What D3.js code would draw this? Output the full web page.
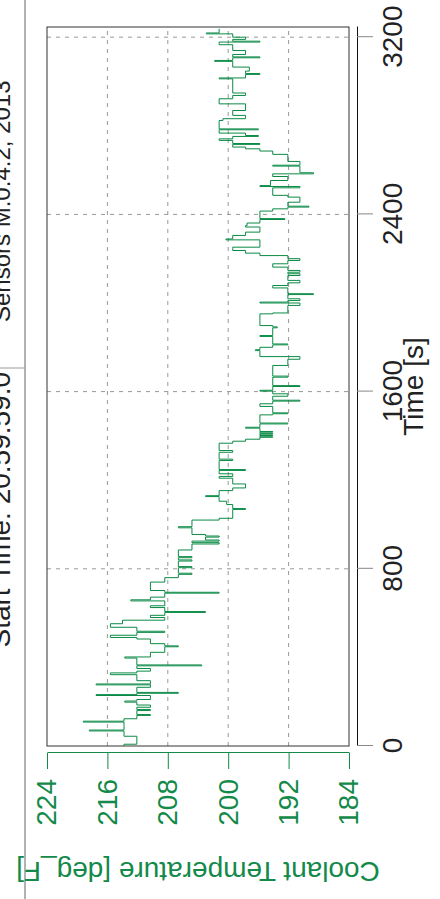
<!DOCTYPE html>
<html>
<head>
<meta charset="utf-8">
<script src="https://cdn.jsdelivr.net/npm/d3@7"></script>
<style>
    html, body { margin: 0; padding: 0; background: #fff; }
    text { font-family: "Liberation Sans", Arial, sans-serif; }
</style>
</head>
<body>
<div id="chart"></div>
<script>
// =========================
// DATA
// =========================
const timeTicks = [0, 800, 1600, 2400, 3200];
const tempTicks = [224, 216, 208, 200, 192, 184];

const times = [
    0, 8, 44, 68, 72, 108, 112, 123, 138, 142, 160, 165, 175, 185, 198, 203, 210, 228, 232, 238,
    242, 265, 276, 280, 295, 322, 330, 338, 350, 362, 366, 397, 402, 423, 448, 452, 462, 483, 490, 500,
    513, 518, 536, 552, 568, 580, 590, 603, 607, 625, 633, 655, 660, 672, 690, 694, 702, 740, 760, 775,
    780, 805, 810, 835, 840, 850, 855, 885, 912, 918, 925, 930, 943, 948, 955, 985, 990, 1020, 1028, 1068,
    1072, 1090, 1105, 1123, 1126, 1130, 1153, 1165, 1183, 1209, 1217, 1229, 1244, 1248, 1289, 1295, 1326, 1334, 1367, 1376,
    1385, 1394, 1396, 1402, 1404, 1409, 1412, 1417, 1420, 1435, 1439, 1454, 1458, 1495, 1500, 1504, 1533, 1545, 1557, 1561,
    1579, 1590, 1602, 1606, 1623, 1627, 1665, 1670, 1718, 1746, 1758, 1785, 1789, 1800, 1811, 1815, 1849, 1853, 1888, 1892,
    1898, 1951, 1955, 1989, 2000, 2004, 2011, 2019, 2038, 2042, 2068, 2079, 2091, 2102, 2124, 2132, 2139, 2147, 2162, 2177,
    2192, 2200, 2214, 2225, 2237, 2245, 2252, 2285, 2289, 2305, 2320, 2343, 2349, 2361, 2377, 2381, 2415, 2425, 2433, 2437,
    2455, 2478, 2486, 2520, 2526, 2530, 2553, 2571, 2583, 2588, 2618, 2622, 2639, 2671, 2686, 2696, 2704, 2716, 2720, 2734,
    2741, 2752, 2756, 2767, 2782, 2786, 2824, 2832, 2847, 2869, 2899, 2922, 2937, 2948, 3012, 3016, 3032, 3036, 3047, 3065,
    3091, 3095, 3107, 3111, 3122, 3140, 3166, 3178, 3182, 3190, 3200, 3215, 3219, 3238
];

const temps = [
    213.8, 212.1, 213.8, 218.4, 213.8, 219.2, 213.8, 212.1, 210.3, 212.1, 210.3, 212.1, 210.3, 212.1, 213.7, 212.1, 210.3, 217.5, 212.1, 206.6,
    212.1, 210.3, 217.5, 210.3, 212.1, 215.6, 212.1, 210.3, 212.1, 203.5, 212.1, 213.7, 210.3, 208.4, 206.6, 208.4, 210.3, 212.1, 215.6, 212.1,
    208.4, 212.1, 215.6, 214.0, 208.4, 210.3, 208.4, 203.0, 208.4, 210.3, 208.4, 212.9, 210.3, 208.4, 201.2, 208.4, 210.3, 208.4, 206.6, 204.8,
    206.6, 204.8, 206.6, 204.8, 206.6, 204.8, 206.6, 204.8, 201.2, 204.8, 201.2, 203.0, 201.2, 203.0, 204.8, 206.6, 204.8, 201.2, 199.4, 197.7,
    199.4, 200.2, 201.2, 201.2, 203.0, 201.2, 199.4, 197.7, 199.4, 201.2, 199.4, 201.2, 197.7, 201.2, 199.4, 201.2, 199.4, 201.2, 199.4, 197.7,
    195.8, 194.1, 195.8, 194.1, 195.8, 194.1, 195.8, 194.1, 195.8, 197.7, 195.8, 192.1, 195.8, 194.1, 192.1, 194.1, 195.8, 194.1, 190.5, 194.1,
    192.1, 194.1, 195.8, 194.1, 190.5, 194.1, 192.1, 194.1, 192.1, 190.5, 195.8, 196.4, 195.8, 194.1, 192.1, 194.1, 195.8, 194.1, 193.5, 194.1,
    195.8, 194.1, 192.1, 190.5, 195.8, 192.1, 190.5, 192.1, 188.7, 192.1, 194.1, 192.1, 190.5, 192.1, 190.5, 192.1, 190.5, 192.1, 194.1, 192.1,
    190.5, 192.1, 195.8, 197.7, 199.4, 199.4, 195.8, 200.3, 199.4, 197.7, 195.8, 197.7, 197.5, 195.8, 192.5, 195.8, 194.1, 192.1, 189.3, 192.1,
    190.5, 192.1, 194.1, 190.5, 195.8, 194.4, 192.1, 194.1, 188.7, 190.5, 194.1, 190.5, 192.1, 194.1, 195.8, 197.7, 199.4, 195.8, 199.4, 201.2,
    199.4, 196.0, 197.7, 201.2, 196.0, 201.2, 200.7, 197.7, 199.4, 197.7, 201.2, 199.4, 197.7, 199.4, 201.2, 197.7, 195.8, 197.7, 197.2, 199.4,
    201.8, 199.4, 195.8, 199.4, 197.7, 199.4, 201.2, 195.8, 199.4, 197.7, 199.4, 202.9, 201.2, 201.2
];

const series = times.map((t, i) => ({ t, v: temps[i] }));

// =========================
// 1. SETUP (drawn landscape, then turned a quarter to the left)
// =========================
const W = 899, H = 440;
const lineGreen = "#0a8a45";
const axisGreen = "#13894a";

const svg = d3.select("#chart")
    .append("svg")
    .attr("width", H)
    .attr("height", W);

const chart = svg.append("g")
    .attr("transform", `translate(0, ${W}) rotate(-90)`);

const plot = { left: 153, right: 872, top: 47, bottom: 349 };

const x = d3.scaleLinear().domain([0, 3246]).range([plot.left, plot.right]);
const y = d3.scaleLinear().domain([184, 224]).range([plot.bottom, plot.top]);

// =========================
// 2. HEADER STRIP
// =========================
chart.append("line")
    .attr("x1", 0).attr("x2", W)
    .attr("y1", 25).attr("y2", 25)
    .attr("stroke", "#999")
    .attr("stroke-width", 1.5);

chart.append("line")
    .attr("x1", 531).attr("x2", 531)
    .attr("y1", 0).attr("y2", 25)
    .attr("stroke", "#999");

chart.append("text")
    .attr("x", 527)
    .attr("y", 10)
    .attr("text-anchor", "end")
    .style("font-size", "28px")
    .attr("fill", "#222")
    .text("Start Time: 20:59:59.0");

chart.append("text")
    .attr("x", 577)
    .attr("y", 10)
    .style("font-size", "24px")
    .attr("fill", "#222")
    .text("Sensors M.0.4.2, 2013");

// =========================
// 3. GRID + FRAME
// =========================
chart.append("g")
    .selectAll("line")
    .data(timeTicks.filter(d => d > 0))
    .enter()
    .append("line")
    .attr("x1", d => x(d)).attr("x2", d => x(d))
    .attr("y1", plot.top).attr("y2", plot.bottom)
    .attr("stroke", "#999")
    .attr("stroke-dasharray", "4,5");

chart.append("g")
    .selectAll("line")
    .data(tempTicks.filter(d => d < 224 && d > 184))
    .enter()
    .append("line")
    .attr("x1", plot.left).attr("x2", plot.right)
    .attr("y1", d => y(d)).attr("y2", d => y(d))
    .attr("stroke", "#999")
    .attr("stroke-dasharray", "4,5");

chart.append("rect")
    .attr("x", plot.left)
    .attr("y", plot.top)
    .attr("width", plot.right - plot.left)
    .attr("height", plot.bottom - plot.top)
    .attr("fill", "none")
    .attr("stroke", "#333");

// =========================
// 4. LINE
// =========================
const line = d3.line()
    .x(d => x(d.t))
    .y(d => y(d.v))
    .curve(d3.curveStepAfter);

chart.append("path")
    .datum(series)
    .attr("d", line)
    .attr("fill", "none")
    .attr("stroke", lineGreen)
    .attr("stroke-width", 1);

// =========================
// 5. AXES
// =========================
const xAxis = chart.append("g")
    .attr("transform", "translate(0, 357)")
    .call(d3.axisBottom(x)
        .tickValues(timeTicks)
        .tickFormat(d3.format("d"))
        .tickSize(16)
        .tickPadding(9)
        .tickSizeOuter(0));

xAxis.select(".domain").attr("stroke", "#111");
xAxis.selectAll(".tick line").attr("stroke", "#888");
xAxis.selectAll(".tick text")
    .attr("fill", "#222")
    .style("font-size", "28px")
    .style("font-family", "'Liberation Sans', Arial, sans-serif");

const yAxis = chart.append("g")
    .attr("transform", "translate(146, 0)")
    .call(d3.axisLeft(y).tickValues(tempTicks).tickSize(16).tickPadding(10).tickSizeOuter(0));

yAxis.select(".domain").attr("stroke", axisGreen);
yAxis.selectAll(".tick line").attr("stroke", axisGreen);
yAxis.selectAll(".tick text")
    .attr("fill", axisGreen)
    .style("font-size", "28px")
    .style("font-family", "'Liberation Sans', Arial, sans-serif");

// =========================
// 6. AXIS TITLES
// =========================
chart.append("text")
    .attr("x", (plot.left + plot.right) / 2)
    .attr("y", 423)
    .attr("text-anchor", "middle")
    .attr("fill", "#222")
    .style("font-size", "28px")
    .text("Time [s]");

chart.append("text")
    .attr("transform", `translate(37, ${(plot.top + plot.bottom) / 2}) rotate(-90)`)
    .attr("text-anchor", "middle")
    .attr("fill", axisGreen)
    .style("font-size", "28px")
    .text("Coolant Temperature [deg_F]");
</script>
</body>
</html>
